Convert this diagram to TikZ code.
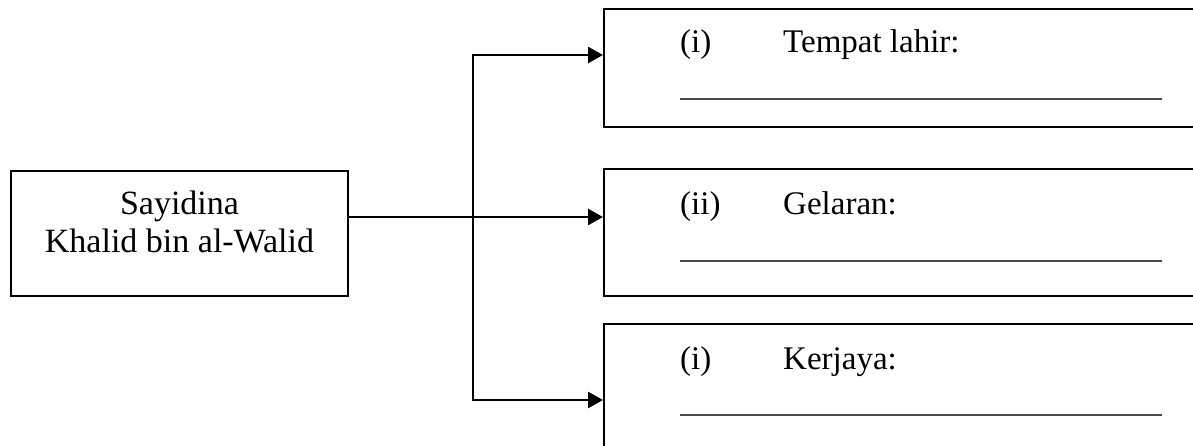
\documentclass[tikz,border=0pt]{standalone}
\usepackage{fontspec}
\setmainfont{Liberation Serif}
\usetikzlibrary{arrows.meta}
\begin{document}
\begin{tikzpicture}[x=1pt,y=-1pt,
  box/.style={draw, line width=2pt, rectangle, inner sep=0pt},
  conn/.style={line width=2.6pt, -{Triangle[length=15pt,width=16pt]}},
  plain/.style={line width=2.6pt},
  ul/.style={line width=1.6pt, draw=black!70},
  lbl/.style={font=\fontsize{33}{38}\selectfont, anchor=base west, inner sep=0pt},
  ctext/.style={font=\fontsize{34}{38}\selectfont, anchor=base, inner sep=0pt}]
\useasboundingbox (0,0) rectangle (1193,446);
\clip (0,0) rectangle (1193,446);
% source box
\node[box, minimum width=337pt, minimum height=125pt] (src) at (179.5,233.5) {};
\node[ctext] (srcA) at (179.5,215) {Sayidina};
\node[ctext] (srcB) at (179.5,253) {Khalid bin al-Walid};
% right boxes
\node[box, minimum width=611pt, minimum height=118pt] (b1) at (909.5,68) {};
\node[box, minimum width=611pt, minimum height=127pt] (b2) at (909.5,232.5) {};
\node[box, minimum width=611pt, minimum height=146pt] (b3) at (909.5,397) {};
% labels
\node[lbl] (n1) at (680,53) {(i)};
\node[lbl] (t1) at (783,53) {Tempat lahir:};
\node[lbl] (n2) at (680,215) {(ii)};
\node[lbl] (t2) at (783,215) {Gelaran:};
\node[lbl] (n3) at (680,369) {(i)};
\node[lbl] (t3) at (783,369) {Kerjaya:};
\draw[ul] (680,99) -- (1162,99);
\draw[ul] (680,261) -- (1162,261);
\draw[ul] (680,415) -- (1162,415);
% connectors
\coordinate (jt) at (473,55);
\coordinate (jb) at (473,400);
\draw[conn] (src.east |- 0,217) -- (b2.west |- 0,217);
\draw[plain, line cap=rect] (jt) -- (jb);
\draw[conn] (jt) -- (jt -| b1.west);
\draw[conn] (jb) -- (jb -| b3.west);
\end{tikzpicture}
\end{document}
